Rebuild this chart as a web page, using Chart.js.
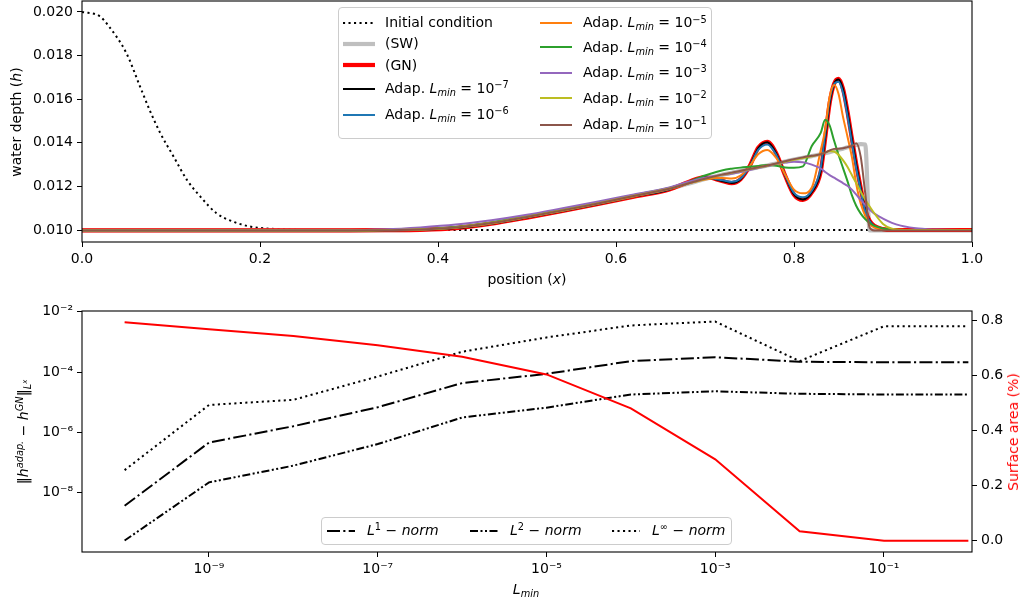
<!DOCTYPE html>
<html>
<head>
<meta charset="utf-8">
<script src="https://cdn.jsdelivr.net/npm/chart.js@4.4.0/dist/chart.umd.min.js"></script>
<style>
  html, body { margin: 0; padding: 0; background: #fff; }
  body { width: 1027px; height: 606px; position: relative; overflow: hidden;
         font-family: 'DejaVu Sans', sans-serif; font-size: 14px; color: #000; }
  canvas { position: absolute; left: 0; }
  #top { top: 0; }
  #bottom { top: 300px; }
  .lbl { position: absolute; white-space: nowrap; line-height: 18px; }
  .ctr { transform: translate(-50%, -50%); }
  .rot { transform: translate(-50%, -50%) rotate(-90deg); }
  .sup, .sub { font-size: 70%; position: relative; line-height: 0; }
  .sup { top: -0.5em; }
  .sub { top: 0.3em; }
  .sup2 { font-size: 70%; position: relative; top: -0.6em; line-height: 0; }
  .legend { position: absolute; border: 1px solid #cccccc; border-radius: 4px;
            background: rgba(255,255,255,0.8); box-sizing: border-box; }
  svg { position: absolute; overflow: visible; }
</style>
</head>
<body>
<canvas id="top" width="1027" height="300"></canvas>
<canvas id="bottom" width="1027" height="306"></canvas>

<div class="lbl ctr" style="left:527px;top:279px">position (<i>x</i>)</div>
<div class="lbl rot" style="left:15.5px;top:121.5px">water depth (<i>h</i>)</div>
<div class="lbl ctr" style="left:526px;top:589px"><i>L</i><span class="sub"><i>min</i></span></div>
<div class="lbl rot" style="left:22.5px;top:432px">‖<i>h</i><span class="sup"><i>adap.</i></span> − <i>h</i><span class="sup"><i>GN</i></span>‖<span class="sub"><i>L</i><span class="sup2"><i>x</i></span></span></div>
<div class="lbl rot" style="left:1013px;top:432px;color:#ff0000">Surface area (%)</div>

<script>
// ---- top panel: water depth h(x) ----
const positions = [
  0, 0.30, 0.34, 0.38, 0.42, 0.46, 0.50, 0.54, 0.58, 0.62,
  0.66, 0.68, 0.70, 0.72, 0.73, 0.74, 0.75, 0.76, 0.77, 0.78,
  0.79, 0.80, 0.81, 0.82, 0.83, 0.835, 0.84, 0.845, 0.85, 0.855,
  0.86, 0.865, 0.87, 0.875, 0.88, 0.885, 0.89, 0.90, 0.91, 0.92,
  0.93, 0.94, 0.95, 0.96, 1.0
];
const initPositions = [0, 0.02, 0.03, 0.05, 0.065, 0.076, 0.088, 0.103, 0.118, 0.133, 0.151, 0.17, 0.19, 0.226, 0.26, 1.0];
const initialDepth = [0.0200, 0.01980, 0.01935, 0.01810, 0.01660, 0.01550, 0.01444, 0.01336, 0.01229, 0.01153, 0.01077, 0.01038, 0.01015, 0.01003, 0.01000, 0.01000];

const depthSW = [
  0.00998, 0.00998, 0.00999, 0.01002, 0.01011, 0.01032, 0.01060, 0.01090, 0.01122, 0.01156,
  0.01189, 0.01211, 0.01234, 0.01254, 0.01262, 0.01271, 0.01279, 0.01288, 0.01296, 0.01305,
  0.01314, 0.01323, 0.01331, 0.01339, 0.01347, 0.01352, 0.01357, 0.01362, 0.01368, 0.01373,
  0.01379, 0.01385, 0.01390, 0.01394, 0.01392, 0.00998, 0.00998, 0.00998, 0.00998, 0.00998,
  0.00998, 0.00998, 0.00998, 0.00998, 0.00998
];
const depthGN = [
  0.00998, 0.00998, 0.00999, 0.01001, 0.01009, 0.01029, 0.01057, 0.01087, 0.01119, 0.01153,
  0.01186, 0.01218, 0.01243, 0.01224, 0.01215, 0.01233, 0.01292, 0.01378, 0.01404, 0.01352,
  0.01250, 0.01162, 0.01138, 0.01172, 0.01268, 0.01420, 0.01580, 0.01670, 0.01693, 0.01648,
  0.01545, 0.01420, 0.01300, 0.01192, 0.01092, 0.01042, 0.01020, 0.01004, 0.01000, 0.01000,
  0.01000, 0.01000, 0.01000, 0.01000, 0.01000
];
const depthAdap7 = [
  0.00998, 0.00998, 0.00999, 0.01001, 0.01009, 0.01029, 0.01057, 0.01087, 0.01119, 0.01153,
  0.01186, 0.01217, 0.01242, 0.01224, 0.01216, 0.01233, 0.01291, 0.01376, 0.01402, 0.01351,
  0.01251, 0.01163, 0.01140, 0.01173, 0.01270, 0.01422, 0.01580, 0.01668, 0.01690, 0.01646,
  0.01543, 0.01418, 0.01298, 0.01190, 0.01091, 0.01041, 0.01019, 0.01004, 0.01000, 0.01000,
  0.01000, 0.01000, 0.01000, 0.01000, 0.01000
];
const depthAdap6 = [
  0.00998, 0.00998, 0.00999, 0.01001, 0.01010, 0.01030, 0.01058, 0.01088, 0.01120, 0.01154,
  0.01187, 0.01215, 0.01238, 0.01228, 0.01221, 0.01236, 0.01290, 0.01368, 0.01392, 0.01345,
  0.01252, 0.01170, 0.01150, 0.01180, 0.01285, 0.01440, 0.01595, 0.01668, 0.01680, 0.01630,
  0.01525, 0.01400, 0.01282, 0.01180, 0.01085, 0.01040, 0.01018, 0.01004, 0.01000, 0.01000,
  0.01000, 0.01000, 0.01000, 0.01000, 0.01000
];
const depthAdap5 = [
  0.00998, 0.00998, 0.00999, 0.01001, 0.01010, 0.01030, 0.01058, 0.01088, 0.01120, 0.01154,
  0.01188, 0.01212, 0.01232, 0.01238, 0.01236, 0.01250, 0.01292, 0.01348, 0.01367, 0.01330,
  0.01255, 0.01185, 0.01168, 0.01195, 0.01365, 0.01460, 0.01610, 0.01665, 0.01625, 0.01520,
  0.01430, 0.01335, 0.01210, 0.01120, 0.01065, 0.01028, 0.01012, 0.01003, 0.01000, 0.01000,
  0.01000, 0.01000, 0.01000, 0.01000, 0.01000
];
const depthAdap4 = [
  0.00998, 0.00998, 0.01000, 0.01004, 0.01014, 0.01035, 0.01063, 0.01094, 0.01126, 0.01160,
  0.01193, 0.01218, 0.01250, 0.01274, 0.01281, 0.01286, 0.01290, 0.01294, 0.01298, 0.01295,
  0.01287, 0.01286, 0.01292, 0.01385, 0.01445, 0.01505, 0.01480, 0.01410, 0.01345, 0.01285,
  0.01225, 0.01160, 0.01110, 0.01075, 0.01050, 0.01032, 0.01020, 0.01007, 0.01002, 0.01000,
  0.01000, 0.01000, 0.01000, 0.01000, 0.01000
];
const depthAdap3 = [
  0.00998, 0.00999, 0.01003, 0.01012, 0.01025, 0.01045, 0.01070, 0.01100, 0.01131, 0.01163,
  0.01195, 0.01220, 0.01240, 0.01252, 0.01258, 0.01266, 0.01275, 0.01284, 0.01293, 0.01302,
  0.01309, 0.01313, 0.01311, 0.01300, 0.01282, 0.01266, 0.01252, 0.01240, 0.01228, 0.01215,
  0.01203, 0.01185, 0.01162, 0.01138, 0.01116, 0.01094, 0.01076, 0.01052, 0.01033, 0.01020,
  0.01012, 0.01007, 0.01004, 0.01002, 0.01000
];
const depthAdap2 = [
  0.00998, 0.00998, 0.01000, 0.01003, 0.01012, 0.01033, 0.01061, 0.01091, 0.01123, 0.01157,
  0.01190, 0.01212, 0.01234, 0.01254, 0.01262, 0.01270, 0.01278, 0.01287, 0.01295, 0.01304,
  0.01313, 0.01322, 0.01330, 0.01338, 0.01348, 0.01355, 0.01362, 0.01360, 0.01345, 0.01320,
  0.01290, 0.01252, 0.01215, 0.01175, 0.01140, 0.01108, 0.01078, 0.01028, 0.01006, 0.01001,
  0.01000, 0.01000, 0.01000, 0.01000, 0.01000
];
const depthAdap1 = [
  0.00998, 0.00998, 0.00999, 0.01002, 0.01011, 0.01032, 0.01060, 0.01090, 0.01122, 0.01156,
  0.01189, 0.01212, 0.01235, 0.01255, 0.01263, 0.01272, 0.01280, 0.01288, 0.01296, 0.01305,
  0.01315, 0.01325, 0.01333, 0.01340, 0.01347, 0.01355, 0.01365, 0.01372, 0.01373, 0.01375,
  0.01380, 0.01385, 0.01398, 0.01335, 0.01170, 0.01010, 0.00998, 0.00998, 0.00998, 0.00998,
  0.00998, 0.00998, 0.00998, 0.00998, 0.00998
];
const positionTicks = [0.0, 0.2, 0.4, 0.6, 0.8, 1.0];
const depthTicks = [0.010, 0.012, 0.014, 0.016, 0.018, 0.020];

// ---- bottom panel: errors and surface area vs L_min ----
const lmin = [1e-10, 1e-9, 1e-8, 1e-7, 1e-6, 1e-5, 1e-4, 1e-3, 1e-2, 1e-1, 1e0];
const normL1 = [3.7e-9, 4.6e-7, 1.6e-6, 6.8e-6, 4.3e-5, 8.7e-5, 2.3e-4, 3.1e-4, 2.2e-4, 2.1e-4, 2.1e-4];
const normL2 = [2.6e-10, 2.2e-8, 7.9e-8, 4.1e-7, 3.1e-6, 6.6e-6, 1.8e-5, 2.3e-5, 1.9e-5, 1.8e-5, 1.8e-5];
const normLinf = [5.6e-8, 8.1e-6, 1.2e-5, 7.1e-5, 4.7e-4, 1.4e-3, 3.5e-3, 4.7e-3, 2.3e-4, 3.3e-3, 3.3e-3];
const surfaceArea = [0.792, 0.767, 0.742, 0.709, 0.667, 0.603, 0.480, 0.295, 0.034, 0.0, 0.0];
const lminTicks = [1e-9, 1e-7, 1e-5, 1e-3, 1e-1];
const normTicks = [1e-8, 1e-6, 1e-4, 1e-2];
const areaTicks = [0.0, 0.2, 0.4, 0.6, 0.8];

const FONT = { family: "'DejaVu Sans', sans-serif", size: 14 };
Chart.defaults.font = FONT;
Chart.defaults.color = '#000';

const SUP = { '-': '⁻', '0': '⁰', '1': '¹', '2': '²', '3': '³', '4': '⁴', '5': '⁵', '6': '⁶', '7': '⁷', '8': '⁸', '9': '⁹' };
const pow10 = v => '10' + String(Math.round(Math.log10(v))).replace(/./g, c => SUP[c]);
const adapLabel = e => `Adap. <i>L</i><span class="sub"><i>min</i></span> = 10<span class="sup">−${e}</span>`;

const DOT = [2.1, 3.4];
const topSeries = [
  { label: 'Initial condition', xs: initPositions, ys: initialDepth, color: '#000000', width: 2, dash: DOT },
  { label: '(SW)', xs: positions, ys: depthSW, color: '#bfbfbf', width: 4.2 },
  { label: '(GN)', xs: positions, ys: depthGN, color: '#ff0000', width: 4.2 },
  { label: adapLabel(7), xs: positions, ys: depthAdap7, color: '#000000', width: 2 },
  { label: adapLabel(6), xs: positions, ys: depthAdap6, color: '#1f77b4', width: 2 },
  { label: adapLabel(5), xs: positions, ys: depthAdap5, color: '#ff7f0e', width: 2 },
  { label: adapLabel(4), xs: positions, ys: depthAdap4, color: '#2ca02c', width: 2 },
  { label: adapLabel(3), xs: positions, ys: depthAdap3, color: '#9467bd', width: 2 },
  { label: adapLabel(2), xs: positions, ys: depthAdap2, color: '#bcbd22', width: 2 },
  { label: adapLabel(1), xs: positions, ys: depthAdap1, color: '#8c564b', width: 2 }
];
const bottomSeries = [
  { label: '<i>L</i><span class="sup">1</span> − <i>norm</i>', ys: normL1, color: '#000', width: 2, dash: [13, 3.3, 2.1, 3.3], axis: 'y' },
  { label: '<i>L</i><span class="sup">2</span> − <i>norm</i>', ys: normL2, color: '#000', width: 2, dash: [8, 2.5, 2, 2.5, 2, 2.5], axis: 'y' },
  { label: '<i>L</i><span class="sup">∞</span> − <i>norm</i>', ys: normLinf, color: '#000', width: 2, dash: DOT, axis: 'y' },
  { label: 'Surface area', ys: surfaceArea, color: '#ff0000', width: 2, axis: 'y2' }
];

// box around the plotting area
const frame = {
  id: 'frame',
  afterDraw(chart) {
    const { ctx, chartArea: a } = chart;
    ctx.save();
    ctx.strokeStyle = '#000';
    ctx.lineWidth = 1.1;
    ctx.strokeRect(a.left, a.top, a.right - a.left, a.bottom - a.top);
    ctx.restore();
  }
};

const tickGrid = { drawOnChartArea: false, drawTicks: true, tickLength: 5, color: '#000', lineWidth: 1 };
const tickFont = { color: '#000', font: FONT, padding: 4, maxRotation: 0, autoSkip: false };
const setTicks = vals => s => { s.ticks = vals.map(v => ({ value: v })); };
// fixed axis sizes, and no extra room for labels hanging over the ends
const fitX = h => s => { s.height = h; s.paddingLeft = 0; s.paddingRight = 0; };
const fitY = w => s => { s.width = w; s.paddingTop = 0; s.paddingBottom = 0; };

new Chart(document.getElementById('top'), {
  type: 'line',
  data: {
    datasets: topSeries.map((s, i) => ({
      data: s.xs.map((x, j) => ({ x, y: s.ys[j] })),
      borderColor: s.color, borderWidth: s.width, borderDash: s.dash || [],
      pointRadius: 0, fill: false, cubicInterpolationMode: 'monotone',
      borderJoinStyle: 'round', order: topSeries.length - i
    }))
  },
  options: {
    responsive: false, animation: false, events: [],
    layout: { padding: { top: 1, right: 55, left: 0, bottom: 0 } },
    plugins: { legend: { display: false }, tooltip: { enabled: false } },
    scales: {
      x: {
        type: 'linear', min: 0, max: 1,
        afterBuildTicks: setTicks(positionTicks),
        afterFit: fitX(58),
        ticks: { ...tickFont, callback: v => v.toFixed(1) },
        grid: tickGrid, border: { display: false }
      },
      y: {
        type: 'linear', min: 0.00945, max: 0.0205,
        afterBuildTicks: setTicks(depthTicks),
        afterFit: fitY(82),
        ticks: { ...tickFont, callback: v => v.toFixed(3) },
        grid: tickGrid, border: { display: false }
      }
    }
  },
  plugins: [frame]
});

new Chart(document.getElementById('bottom'), {
  type: 'line',
  data: {
    datasets: bottomSeries.map((s, i) => ({
      data: lmin.map((x, j) => ({ x, y: s.ys[j] })),
      yAxisID: s.axis,
      borderColor: s.color, borderWidth: s.width, borderDash: s.dash || [],
      pointRadius: 0, fill: false, tension: 0, order: bottomSeries.length - i
    }))
  },
  options: {
    responsive: false, animation: false, events: [],
    layout: { padding: { top: 11, right: 0, left: 0, bottom: 0 } },
    plugins: { legend: { display: false }, tooltip: { enabled: false } },
    scales: {
      x: {
        type: 'logarithmic', min: Math.pow(10, -10.505), max: Math.pow(10, 0.043),
        afterBuildTicks: setTicks(lminTicks),
        afterFit: fitX(54),
        ticks: { ...tickFont, callback: v => pow10(v) },
        grid: tickGrid, border: { display: false }
      },
      y: {
        type: 'logarithmic', position: 'left', min: Math.pow(10, -9.965), max: Math.pow(10, -1.977),
        afterBuildTicks: setTicks(normTicks),
        afterFit: fitY(82),
        ticks: { ...tickFont, callback: v => pow10(v) },
        grid: tickGrid, border: { display: false }
      },
      y2: {
        type: 'linear', position: 'right', min: -0.041, max: 0.833,
        afterBuildTicks: setTicks(areaTicks),
        afterFit: fitY(55),
        ticks: { ...tickFont, callback: v => v.toFixed(1) },
        grid: tickGrid, border: { display: false }
      }
    }
  },
  plugins: [frame]
});

// legends drawn as html on top of the canvases
const NS = 'http://www.w3.org/2000/svg';
function addBox(x, y, w, h) {
  const d = document.createElement('div');
  d.className = 'legend';
  Object.assign(d.style, { left: x + 'px', top: y + 'px', width: w + 'px', height: h + 'px' });
  document.body.appendChild(d);
}
function addSample(x, y, w, s) {
  const svg = document.createElementNS(NS, 'svg');
  svg.setAttribute('width', w);
  svg.setAttribute('height', 12);
  svg.style.left = x + 'px';
  svg.style.top = (y - 6) + 'px';
  const ln = document.createElementNS(NS, 'line');
  ln.setAttribute('x1', 0); ln.setAttribute('x2', w);
  ln.setAttribute('y1', 6); ln.setAttribute('y2', 6);
  ln.setAttribute('stroke', s.color);
  ln.setAttribute('stroke-width', s.width);
  if (s.dash) ln.setAttribute('stroke-dasharray', s.dash.join(' '));
  svg.appendChild(ln);
  document.body.appendChild(svg);
}
function addText(x, y, html) {
  const d = document.createElement('div');
  d.className = 'lbl';
  d.style.left = x + 'px';
  d.style.top = (y - 9.3) + 'px';
  d.innerHTML = html;
  document.body.appendChild(d);
}

addBox(338, 7, 374, 132);
const leftRows = [22.7, 43.5, 65, 88.5, 114.5];
const rightRows = [22.7, 47, 72.5, 98.3, 124.5];
topSeries.forEach((s, i) => {
  const left = i < 5;
  const y = left ? leftRows[i] : rightRows[i - 5];
  addSample(left ? 343 : 540, y, 32, s);
  addText(left ? 385 : 583, y, s.label);
});

addBox(321, 517, 411, 28);
const bottomItems = [[327, 367], [470, 510], [612, 652]];
bottomItems.forEach(([sx, tx], i) => {
  addSample(sx, 530.5, 28, bottomSeries[i]);
  addText(tx, 530.5, bottomSeries[i].label);
});
</script>
</body>
</html>
